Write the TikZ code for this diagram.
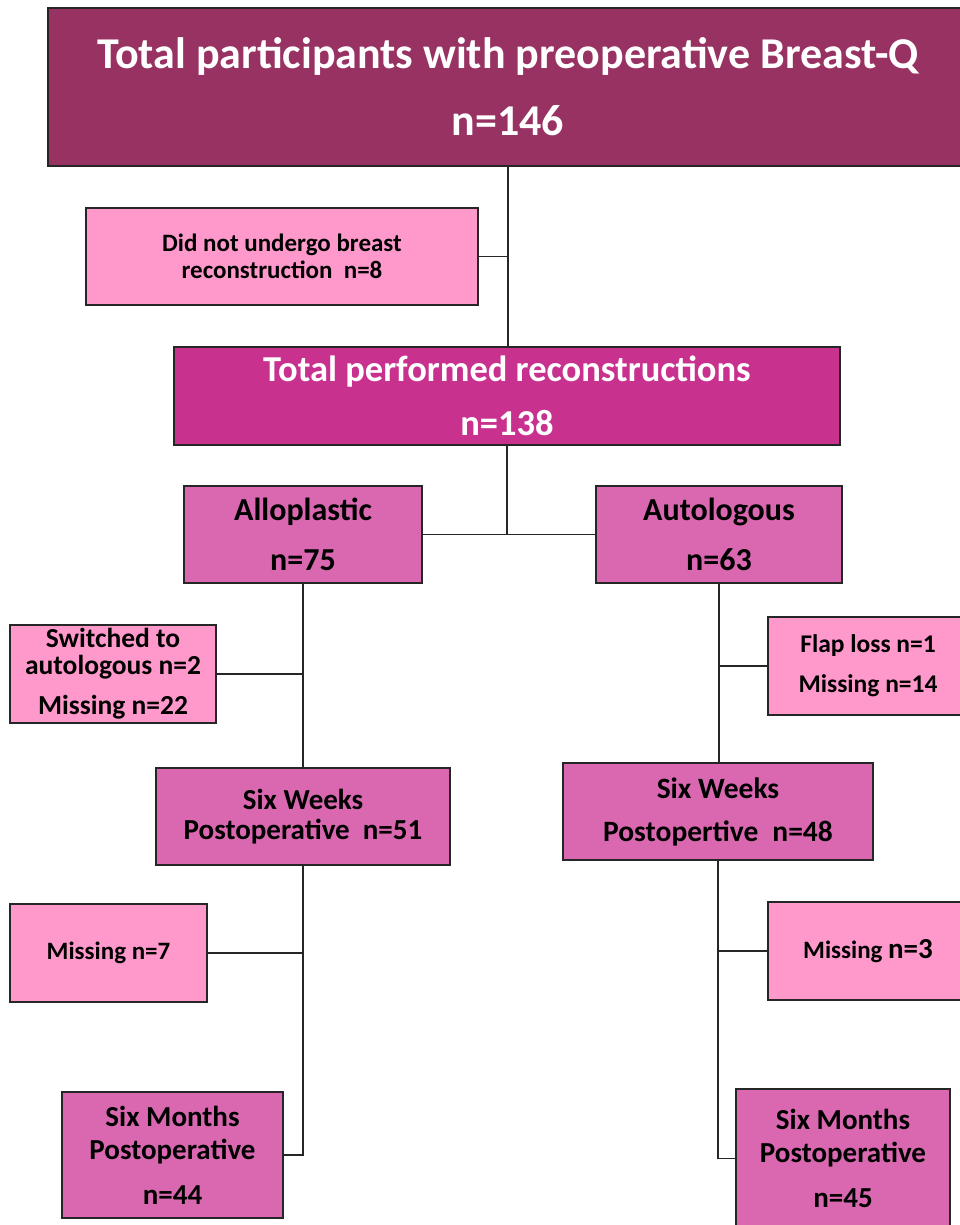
\documentclass[tikz,border=0pt]{standalone}
\usepackage{fontspec}
\setmainfont{Carlito}
\definecolor{topc}{RGB}{152,50,98}
\definecolor{totc}{RGB}{201,49,143}
\definecolor{midc}{RGB}{217,104,177}
\definecolor{lightc}{RGB}{255,153,204}
\newcommand{\fsz}[2]{\fontsize{#1}{#2}\selectfont\lineskiplimit=-100pt\relax}
\begin{document}
\begin{tikzpicture}[x=1pt,y=-1pt,
  box/.style={draw=black!85,line width=1.4pt,inner sep=0pt,align=center,font=\bfseries},
  conn/.style={draw=black!85,line width=1.4pt}]
\useasboundingbox (0,0) rectangle (960,1225);
\fill[white] (0,0) rectangle (960,1225);
% boxes
\node[box,fill=topc,text=white,minimum width=920pt,minimum height=158pt,font=\bfseries\fsz{44}{67}] (top) at (508,87) {Total participants with preoperative Breast-Q\\n=146};
\node[box,fill=lightc,minimum width=392pt,minimum height=97pt,font=\bfseries\fsz{25}{27}] (noreco) at (282,256.5) {Did not undergo breast\\reconstruction\ \ n=8};
\node[box,fill=totc,text=white,minimum width=666pt,minimum height=98pt,font=\bfseries\fsz{36.5}{54}] (total) at (507,396) {Total performed reconstructions\\n=138};
\node[box,fill=midc,minimum width=238pt,minimum height=97pt,font=\bfseries\fsz{32}{50}] (allo) at (303,534.5) {Alloplastic\\n=75};
\node[box,fill=midc,minimum width=246pt,minimum height=97pt,font=\bfseries\fsz{32}{50}] (auto) at (719,534.5) {Autologous\\n=63};
\node[box,fill=lightc,minimum width=206pt,minimum height=98pt,font=\bfseries\fsz{27.5}{27}] (switched) at (113,674) {Switched to\\autologous n=2\\[13pt]Missing n=22};
\node[box,fill=lightc,minimum width=200pt,minimum height=98pt,font=\bfseries\fsz{25.5}{40}] (flap) at (868,666) {Flap loss n=1\\Missing n=14};
\node[box,fill=midc,minimum width=294pt,minimum height=97pt,font=\bfseries\fsz{29}{30}] (swl) at (303,816.5) {Six Weeks\\Postoperative\ \ n=51};
\node[box,fill=midc,minimum width=310pt,minimum height=97pt,font=\bfseries\fsz{29.5}{43}] (swr) at (718,811.5) {Six Weeks\\Postopertive\hspace{14pt}n=48};
\node[box,fill=lightc,minimum width=197pt,minimum height=98pt,font=\bfseries\fsz{25}{27}] (miss7) at (108.5,953) {Missing n=7};
\node[box,fill=lightc,minimum width=200pt,minimum height=98pt,font=\bfseries\fsz{25}{27}] (miss3) at (868,951) {Missing {\fsz{29}{27}n=3}};
\node[box,fill=midc,minimum width=221pt,minimum height=126pt,font=\bfseries\fsz{29}{33}] (sml) at (172.5,1155) {Six Months\\Postoperative\\[12pt]n=44};
\node[box,fill=midc,minimum width=214pt,minimum height=139pt,font=\bfseries\fsz{29}{33}] (smr) at (843,1158.5) {Six Months\\Postoperative\\[12pt]n=45};
% connectors
\draw[conn] (top.south) -- (top.south |- total.north);
\draw[conn] (noreco.east) -- (noreco.east -| top.south);
\draw[conn] (total.south) -- (total.south |- allo.east);
\draw[conn] (allo.east) -- (auto.west);
\draw[conn] (allo.south) -- (swl.north);
\draw[conn] (switched.east) -- (switched.east -| allo.south);
\draw[conn] (auto.south) -- (auto.south |- swr.north);
\draw[conn] (flap.west) -- (flap.west -| auto.south);
\draw[conn] (swl.south) |- (sml.east);
\draw[conn] (miss7.east) -- (miss7.east -| swl.south);
\draw[conn] (swr.south) |- (smr.west);
\draw[conn] (miss3.west) -- (miss3.west -| swr.south);
\end{tikzpicture}
\end{document}
